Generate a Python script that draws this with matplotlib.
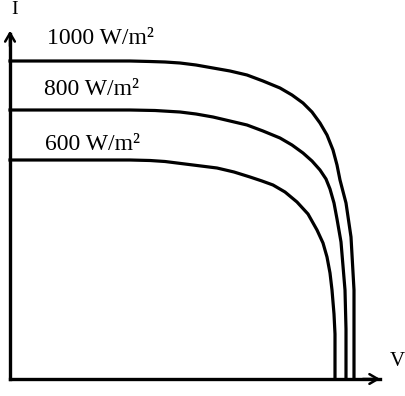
import matplotlib
matplotlib.use("Agg")
import matplotlib.pyplot as plt

# I-V curves (arbitrary units)
v_1000 = [0, 12, 14, 15.5, 17, 18.6, 20.3, 22, 23.7, 25.3, 27.0, 28.2, 29.3, 30.2,
          31.0, 31.7, 32.3, 32.7, 33.0, 33.6, 34.1, 34.4, 34.4]
i_1000 = [31.8, 31.8, 31.75, 31.7, 31.6, 31.4, 31.1, 30.8, 30.4, 29.8, 29.1, 28.4, 27.6, 26.7,
          25.6, 24.4, 22.9, 21.4, 19.9, 17.6, 14.2, 8.9, 0]

v_800 = [0, 12, 14.5, 17, 18.6, 20.3, 22, 23.7, 25.3, 27.0, 28.2, 29.3, 30.2, 31.0,
         31.6, 32.0, 32.4, 32.7, 33.1, 33.5, 33.6, 33.6]
i_800 = [26.9, 26.9, 26.85, 26.7, 26.5, 26.2, 25.8, 25.4, 24.8, 24.1, 23.4, 22.6, 21.8, 20.9,
         20.0, 19.0, 17.6, 16.0, 13.7, 8.9, 5.0, 0]

v_600 = [0, 12, 14, 15.5, 16.7, 18.7, 20.7, 22.4, 24.0, 25.2, 26.3, 27.5, 28.7, 29.8,
         30.7, 31.3, 31.7, 32.0, 32.2, 32.4, 32.5, 32.5]
i_600 = [21.9, 21.9, 21.85, 21.75, 21.6, 21.35, 21.1, 20.7, 20.2, 19.8, 19.4, 18.7, 17.7, 16.5,
         14.9, 13.6, 12.2, 10.6, 8.9, 6.5, 4.5, 0]

labels = ["1000 W/m²", "800 W/m²", "600 W/m²"]
label_pos = [(3.7, 33.5), (3.4, 28.4), (3.5, 22.9)]

fig = plt.figure(figsize=(4.06, 3.96), dpi=100)
ax = fig.add_axes([0, 0, 1, 1])
ax.set_xlim(-1.0, 39.6)
ax.set_ylim(-1.7, 37.9)
ax.axis("off")

for v, i in [(v_1000, i_1000), (v_800, i_800), (v_600, i_600)]:
    ax.plot(v, i, color="black", lw=2.3, solid_joinstyle="round")

# axes with arrows
ax.plot([0, 0], [0, 34.5], color="black", lw=2.4)
ax.plot([0, 37.0], [0, 0], color="black", lw=2.4)
arr = dict(arrowstyle="->,head_length=0.6,head_width=0.35", color="black", lw=1.8)
ax.annotate("", xy=(0, 35.1), xytext=(0, 33.0), arrowprops=arr)
ax.annotate("", xy=(37.3, 0), xytext=(35.0, 0), arrowprops=arr)

serif = "Liberation Serif"
ax.text(0.5, 36.9, "I", fontsize=14, family=serif, ha="center", va="center")
ax.text(38.7, 1.7, "V", fontsize=15, family=serif, ha="center", va="center")

for txt, (x, y) in zip(labels, label_pos):
    ax.text(x, y, txt, fontsize=17, family=serif, ha="left", va="baseline")

fig.savefig("out.png", dpi=100)
